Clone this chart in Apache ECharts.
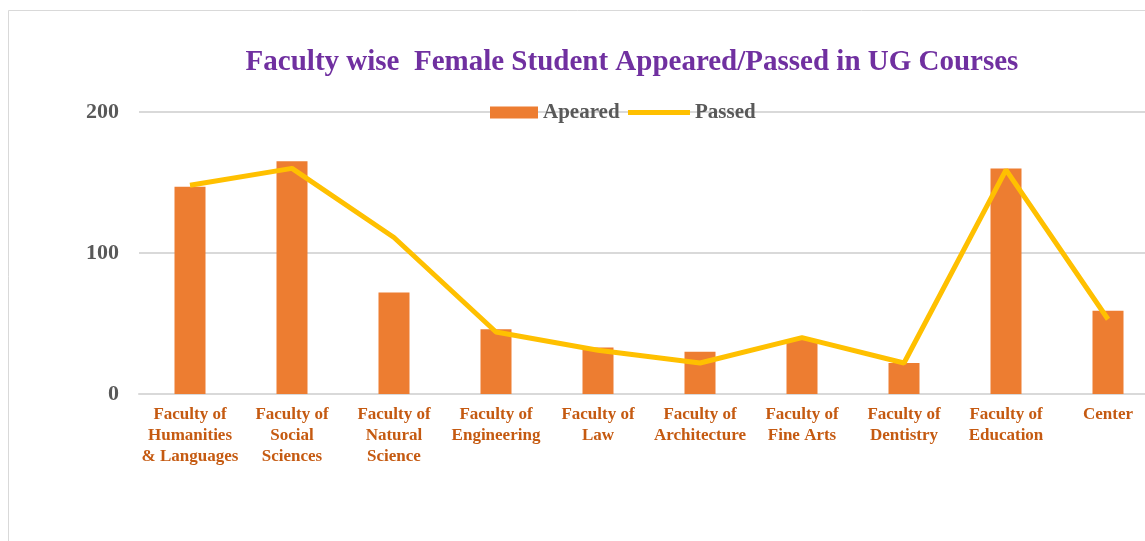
<!DOCTYPE html>
<html>
<head>
<meta charset="utf-8">
<script src="https://cdn.jsdelivr.net/npm/echarts@6/dist/echarts.min.js"></script>
<style>
  html, body { margin: 0; padding: 0; background: #fff; }
  #chart { width: 1145px; height: 541px; }
</style>
</head>
<body>
<div id="chart"></div>
<script>
// category labels as shown under the axis
var categories = [
  'Faculty of\nHumanities\n& Languages',
  'Faculty of\nSocial\nSciences',
  'Faculty of\nNatural\nScience',
  'Faculty of\nEngineering',
  'Faculty of\nLaw',
  'Faculty of\nArchitecture',
  'Faculty of\nFine Arts',
  'Faculty of\nDentistry',
  'Faculty of\nEducation',
  'Center'
];
var appeared = [147, 165, 72, 46, 33, 30, 39, 22, 160, 59];
var passed = [148, 160, 111, 44, 31, 22, 40, 22, 159, 53];
var yTicks = [0, 100, 200];

var serif = '"Liberation Serif", "Times New Roman", serif';
var legendText = {
  color: '#595959',
  fontFamily: serif,
  fontWeight: 'bold',
  fontSize: 21
};
var chart = echarts.init(document.getElementById('chart'));

chart.setOption({
  backgroundColor: '#fff',
  animation: false,
  title: {
    text: 'Faculty wise  Female Student Appeared/Passed in UG Courses',
    left: 627,
    textAlign: 'center',
    top: 43,
    textStyle: {
      color: '#7030A0',
      fontFamily: serif,
      fontWeight: 'bold',
      fontSize: 29
    }
  },
  legend: [
    {
      left: 490,
      top: 102,
      padding: 0,
      itemWidth: 48,
      itemHeight: 12,
      icon: 'rect',
      textStyle: legendText,
      data: ['Apeared']
    },
    {
      left: 628,
      top: 102,
      padding: 0,
      itemWidth: 62,
      itemHeight: 5,
      icon: 'rect',
      textStyle: legendText,
      data: ['Passed']
    }
  ],
  graphic: [{
    type: 'rect',
    silent: true,
    shape: {x: 8.5, y: 10.5, width: 1200, height: 700},
    style: {fill: 'none', stroke: '#d9d9d9', lineWidth: 1}
  }],
  grid: {
    left: 139,
    top: 112,
    width: 1020,
    bottom: 147,
    outerBoundsMode: 'none'
  },
  xAxis: {
    type: 'category',
    data: categories,
    axisLine: {lineStyle: {color: '#d9d9d9', width: 2}},
    axisTick: {show: false},
    axisLabel: {
      interval: 0,
      margin: 10,
      color: '#C55A11',
      fontFamily: serif,
      fontWeight: 'bold',
      fontSize: 17,
      lineHeight: 21
    }
  },
  yAxis: {
    type: 'value',
    min: yTicks[0],
    max: yTicks[yTicks.length - 1],
    interval: 100,
    axisLine: {show: false},
    axisTick: {show: false},
    splitLine: {lineStyle: {color: '#d9d9d9', width: 2}},
    axisLabel: {
      margin: 20,
      color: '#595959',
      fontFamily: serif,
      fontWeight: 'bold',
      fontSize: 22
    }
  },
  series: [
    {
      name: 'Apeared',
      type: 'bar',
      data: appeared,
      barWidth: 31,
      itemStyle: {color: '#ED7D31'}
    },
    {
      name: 'Passed',
      type: 'line',
      data: passed,
      symbol: 'none',
      lineStyle: {color: '#FFC000', width: 5},
      itemStyle: {color: '#FFC000'}
    }
  ]
});
</script>
</body>
</html>
